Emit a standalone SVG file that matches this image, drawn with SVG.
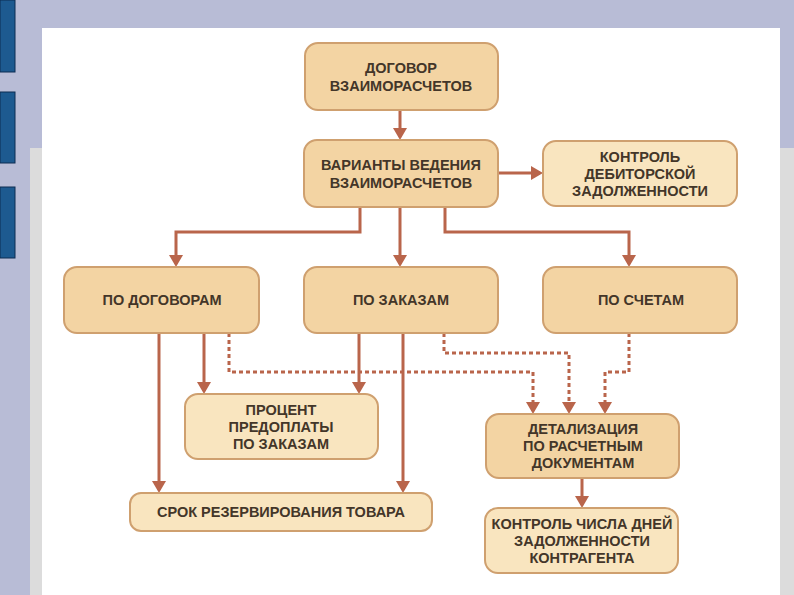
<svg xmlns="http://www.w3.org/2000/svg" width="794" height="595" viewBox="0 0 794 595">
<defs>
<style>
.n1{fill:#f3d4a3;stroke:#cfa06f;stroke-width:2}
.n2{fill:#f9e5bf;stroke:#cfa06f;stroke-width:2}
.t{font-family:"Liberation Sans",Arial,sans-serif;font-weight:bold;font-size:14.5px;fill:#433629;text-anchor:middle;dominant-baseline:central}
.c{fill:none;stroke:#b9654b;stroke-width:3}
.d{fill:none;stroke:#b9654b;stroke-width:3;stroke-dasharray:4 3}
.blue{fill:#1d5a90;stroke:#0c2c52;stroke-width:1}
</style>
<marker id="ah" viewBox="0 0 12 14" markerWidth="12" markerHeight="14" refX="9" refY="7" orient="auto" markerUnits="userSpaceOnUse">
<path d="M0,0 L12,7 L0,14 z" fill="#b9654b"/>
</marker>
</defs>
<g id="background">
<rect x="0" y="0" width="794" height="595" fill="#b8bcd6"/>
<rect x="30" y="148" width="764" height="447" fill="#dcdcdc"/>
<rect x="42" y="28" width="738" height="567" fill="#ffffff"/>
<rect class="blue" x="0" y="0" width="15" height="72"/>
<rect class="blue" x="0" y="92" width="15" height="71"/>
<rect class="blue" x="0" y="187" width="15" height="71"/>
</g>
<g id="connectors">
<path class="c" d="M400,110 V137" marker-end="url(#ah)"/>
<path class="c" d="M498,173 H540" marker-end="url(#ah)"/>
<path class="c" d="M360,207 V232 H176 V264" marker-end="url(#ah)"/>
<path class="c" d="M400,207 V264" marker-end="url(#ah)"/>
<path class="c" d="M445,207 V232 H629 V264" marker-end="url(#ah)"/>
<path class="c" d="M159,333 V490" marker-end="url(#ah)"/>
<path class="c" d="M204,333 V391" marker-end="url(#ah)"/>
<path class="c" d="M359,333 V391" marker-end="url(#ah)"/>
<path class="c" d="M403,333 V490" marker-end="url(#ah)"/>
<path class="c" d="M582,478 V505" marker-end="url(#ah)"/>
<path class="d" d="M229,333 V372 H533 V411" marker-end="url(#ah)"/>
<path class="d" d="M444,333 V353 H569 V411" marker-end="url(#ah)"/>
<path class="d" d="M629,333 V372 H605 V411" marker-end="url(#ah)"/>
</g>
<g id="n-dogovor">
<rect class="n1" x="305" y="43" width="193" height="67" rx="13"/>
<text class="t" x="401" y="68">ДОГОВОР</text>
<text class="t" x="401" y="86">ВЗАИМОРАСЧЕТОВ</text>
</g>
<g id="n-varianty">
<rect class="n1" x="304" y="140" width="194" height="67" rx="13"/>
<text class="t" x="401" y="165">ВАРИАНТЫ ВЕДЕНИЯ</text>
<text class="t" x="401" y="183">ВЗАИМОРАСЧЕТОВ</text>
</g>
<g id="n-kontrol-deb">
<rect class="n2" x="543" y="141" width="194" height="65" rx="13"/>
<text class="t" x="640" y="157">КОНТРОЛЬ</text>
<text class="t" x="640" y="174">ДЕБИТОРСКОЙ</text>
<text class="t" x="640" y="191">ЗАДОЛЖЕННОСТИ</text>
</g>
<g id="n-po-dogovoram">
<rect class="n1" x="64" y="267" width="195" height="66" rx="13"/>
<text class="t" x="162" y="300">ПО ДОГОВОРАМ</text>
</g>
<g id="n-po-zakazam">
<rect class="n1" x="304" y="267" width="194" height="66" rx="13"/>
<text class="t" x="401" y="300">ПО ЗАКАЗАМ</text>
</g>
<g id="n-po-schetam">
<rect class="n1" x="543" y="267" width="194" height="66" rx="13"/>
<text class="t" x="641" y="300">ПО СЧЕТАМ</text>
</g>
<g id="n-procent">
<rect class="n2" x="185" y="394" width="193" height="65" rx="13"/>
<text class="t" x="281" y="410">ПРОЦЕНТ</text>
<text class="t" x="281" y="427">ПРЕДОПЛАТЫ</text>
<text class="t" x="281" y="444">ПО ЗАКАЗАМ</text>
</g>
<g id="n-srok">
<rect class="n2" x="130" y="493" width="302" height="38" rx="11"/>
<text class="t" x="281" y="512">СРОК РЕЗЕРВИРОВАНИЯ ТОВАРА</text>
</g>
<g id="n-detalizaciya">
<rect class="n1" x="486" y="414" width="193" height="64" rx="13"/>
<text class="t" x="583" y="429">ДЕТАЛИЗАЦИЯ</text>
<text class="t" x="583" y="446">ПО РАСЧЕТНЫМ</text>
<text class="t" x="583" y="463">ДОКУМЕНТАМ</text>
</g>
<g id="n-kontrol-chisla">
<rect class="n2" x="485" y="508" width="193" height="65" rx="13"/>
<text class="t" x="582" y="524">КОНТРОЛЬ ЧИСЛА ДНЕЙ</text>
<text class="t" x="582" y="541">ЗАДОЛЖЕННОСТИ</text>
<text class="t" x="582" y="558">КОНТРАГЕНТА</text>
</g>
</svg>
